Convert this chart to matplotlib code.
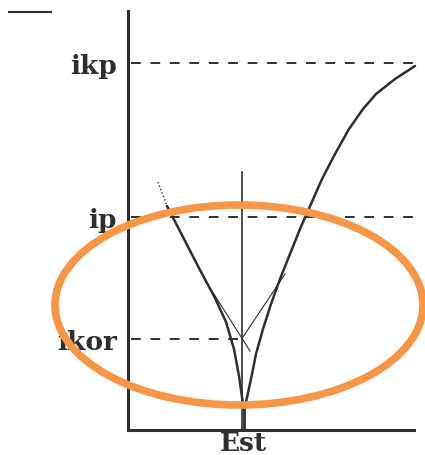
import matplotlib
matplotlib.use('Agg')
import matplotlib.pyplot as plt
from matplotlib.patches import Ellipse

# levels on the current axis
level_names = ['ikor', 'ip', 'ikp']
level_vals = [0.91, 2.13, 3.67]
est_x = 1.15

# left branch of the V (upper dotted bit, then solid)
left_dot_x = [0.30, 0.39]
left_dot_y = [2.48, 2.24]
left_x = [0.39, 0.56, 0.72, 0.87, 0.98, 1.06, 1.11, 1.15]
left_y = [2.24, 1.91, 1.60, 1.32, 1.08, 0.81, 0.54, 0.26]

# right branch, rises up to ikp
right_x = [1.16, 1.18, 1.23, 1.28, 1.35, 1.43, 1.52, 1.62, 1.72, 1.83, 1.94,
           2.07, 2.21, 2.35, 2.48, 2.67, 2.87]
right_y = [0.24, 0.28, 0.51, 0.76, 1.01, 1.26, 1.51, 1.76, 2.01, 2.26, 2.51,
           2.76, 3.01, 3.21, 3.36, 3.51, 3.64]

# thin tangents meeting at ikor
tan_l_x = [0.84, 1.22]
tan_l_y = [1.39, 0.79]
tan_r_x = [1.15, 1.57]
tan_r_y = [0.93, 1.56]

ink = '#2e2e2e'
orange = '#F79646'

W, H = 425, 456
fig = plt.figure(figsize=(W / 100, H / 100), dpi=100)
ax = fig.add_axes([128 / W, 25 / H, 286 / W, 419 / H])
ax.set_xlim(0, 2.86)
ax.set_ylim(0, 4.19)

for s in ['top', 'right']:
    ax.spines[s].set_visible(False)
for s in ['left', 'bottom']:
    ax.spines[s].set_linewidth(2.2)
    ax.spines[s].set_color(ink)

# dashed level lines
dash = dict(color=ink, lw=1.4, dashes=(5, 5), clip_on=False)
ax.plot([0.03, 2.86], [level_vals[2]] * 2, **dash)
ax.plot([0.03, 2.87], [level_vals[1]] * 2, **dash)
ax.plot([0.03, est_x], [level_vals[0]] * 2, **dash)

# vertical line at Est
ax.plot([est_x - 0.01, est_x - 0.01], [0, 2.58], color=ink, lw=1.2)

# curves
ax.plot(left_dot_x, left_dot_y, color=ink, lw=1.0, ls=':')
ax.plot(left_x, left_y, color=ink, lw=1.8, solid_capstyle='round',
        solid_joinstyle='round')
ax.plot(right_x, right_y, color=ink, lw=1.8, solid_capstyle='round',
        solid_joinstyle='round', clip_on=False)
ax.plot([est_x + 0.005] * 2, [0, 0.26], color=ink, lw=2.0)
ax.plot(tan_l_x, tan_l_y, color=ink, lw=0.8)
ax.plot(tan_r_x, tan_r_y, color=ink, lw=0.8)

# little stroke at the top left
ax.plot([-1.19, -0.77], [4.18, 4.18], color=ink, lw=1.5, clip_on=False)

# orange highlight
ax.add_patch(Ellipse((1.11, 1.25), 3.68, 2.00, fill=False, ec=orange, lw=5.5,
                     clip_on=False, zorder=5))

ax.set_yticks(level_vals)
ax.set_yticklabels(level_names)
ax.set_xticks([est_x])
ax.set_xticklabels(['Est'])
ax.tick_params(length=0, labelsize=19, colors=ink)
ax.tick_params(axis='y', pad=8)
ax.tick_params(axis='x', pad=0)
for lab in ax.get_xticklabels() + ax.get_yticklabels():
    lab.set_family('DejaVu Serif')
    lab.set_weight('bold')

fig.savefig('out.png', dpi=100)
